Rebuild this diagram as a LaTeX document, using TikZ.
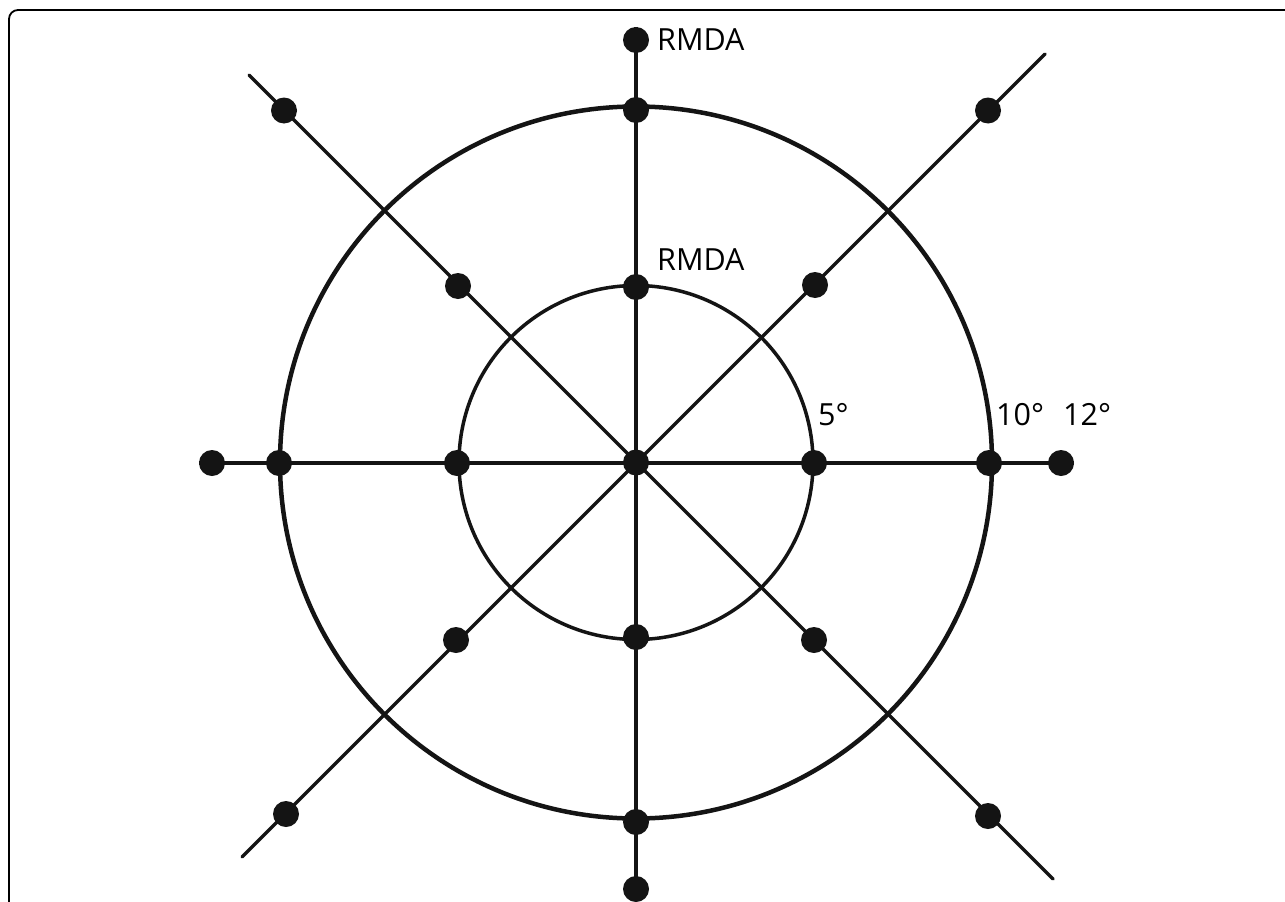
\documentclass[tikz,border=0pt]{standalone}
\usepackage{fontspec}
\setmainfont{Open Sans}
\begin{document}
\begin{tikzpicture}[x=1pt,y=-1pt,
  dot/.style={circle,fill=black!92,inner sep=0pt,minimum size=26pt},
  spoke/.style={line width=3.5pt,black!92},
  lbl/.style={font=\fontsize{30.5}{35}\selectfont,inner sep=0pt,anchor=base west}]
\useasboundingbox (0,0) rectangle (1285,902);
\clip (0,0) rectangle (1285,902);
\fill[white] (0,0) rectangle (1285,902);
\draw[line width=1.8pt,rounded corners=9pt] (9,10) rectangle (1320,940);
\coordinate (c) at (636,462.5);
% circles
\draw[line width=3.5pt,black!92] (c) circle (177);
\draw[line width=4.5pt,black!92] (c) circle (356);
% dots
\node[dot] (o) at (c) {};
\node[dot] (n12) at (636,40) {};
\node[dot] (n10) at (636,110) {};
\node[dot] (n5) at (636,287) {};
\node[dot] (s5) at (636,637) {};
\node[dot] (s10) at (636,822) {};
\node[dot] (s12) at (636,889) {};
\node[dot] (w12) at (212,463) {};
\node[dot] (w10) at (279,463) {};
\node[dot] (w5) at (457,463) {};
\node[dot] (e5) at (814,463) {};
\node[dot] (e10) at (989,463) {};
\node[dot] (e12) at (1061,463) {};
\node[dot] (nw2) at (284,110.5) {};
\node[dot] (nw1) at (458,286) {};
\node[dot] (se1) at (814,640) {};
\node[dot] (se2) at (988,816) {};
\node[dot] (ne2) at (988,110.5) {};
\node[dot] (ne1) at (815,285) {};
\node[dot] (sw1) at (456,640) {};
\node[dot] (sw2) at (286,814) {};
\coordinate (nwend) at (249,75);
\coordinate (seend) at (1053,879);
\coordinate (neend) at (1045,54);
\coordinate (swend) at (242,857);
% spokes
\draw[spoke] (n12.north) -- (s12.center);
\draw[spoke] (w12.west) -- (e12.east);
\draw[spoke,line cap=round] (nwend) -- (seend);
\draw[spoke,line cap=round] (neend) -- (swend);
% labels
\node[lbl] (t1) at (657,50) {RMDA};
\node[lbl] (t2) at (657,270) {RMDA};
\node[lbl] (t3) at (818,425) {5°};
\node[lbl] (t4) at (996,425) {10°};
\node[lbl] (t5) at (1063,425) {12°};
\end{tikzpicture}
\end{document}
